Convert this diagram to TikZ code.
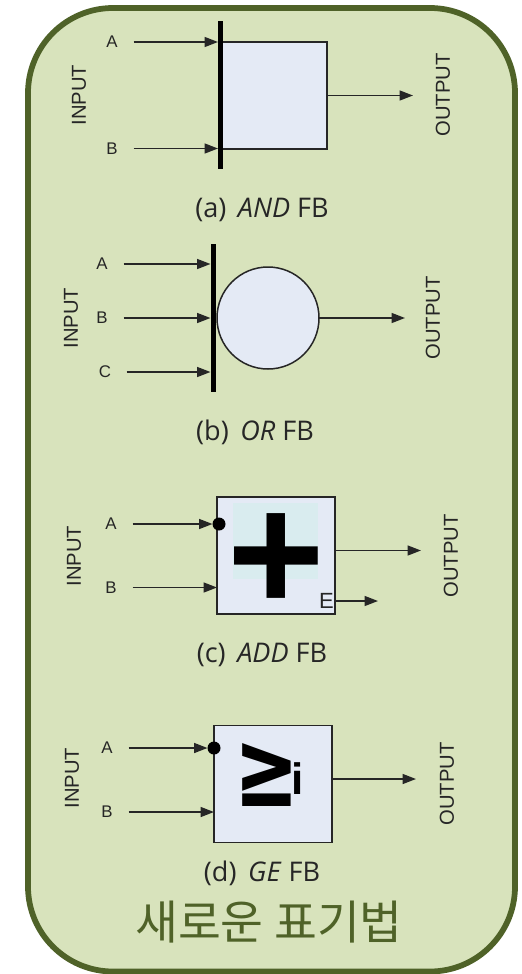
\documentclass[tikz,border=0pt]{standalone}
\usepackage{fontspec}
\setmainfont{Open Sans}
\newfontfamily\pinfont{Liberation Sans}
\newfontfamily\symfont{DejaVu Sans}
\newfontfamily\krfont{Noto Sans CJK KR}
\usetikzlibrary{arrows.meta, positioning}
\definecolor{panelFill}{HTML}{D8E3BC}
\definecolor{panelEdge}{HTML}{4F6228}
\definecolor{blockFill}{HTML}{E4EAF5}
\definecolor{plusFill}{HTML}{D9ECEF}
\definecolor{lineGrey}{HTML}{262626}

\begin{document}
\begin{tikzpicture}[
  x=0.2mm, y=-0.2mm,
  every node/.style={inner sep=0pt, outer sep=0pt, align=center},
  block/.style={draw=lineGrey, line width=0.3mm, fill=blockFill,
                minimum width=23.6mm, minimum height=23.4mm},
  bar/.style={fill=black, minimum width=1mm, minimum height=29.6mm},
  dot/.style={circle, fill=black, minimum size=2.6mm},
  pin/.style={font=\pinfont\fontsize{9.6}{11}\selectfont, text=lineGrey,
              minimum width=8.6mm},
  side/.style={font=\pinfont\fontsize{11.5}{14}\selectfont, text=lineGrey,
               rotate=90},
  caption/.style={font=\fontsize{15.4}{18}\selectfont, text=black!85},
  arrow/.style={-{Triangle[length=2.7mm, width=2mm]}, draw=lineGrey,
                line width=0.32mm},
]
\useasboundingbox (0, 0) rectangle (521, 974);

% --- Outer panel ---------------------------------------------------
\draw[draw=panelEdge, fill=panelFill, line width=1.15mm, rounded corners=17mm]
  (28, 8) rectangle (515, 971.5);

% --- (a) AND block -------------------------------------------------
\node[block, minimum width=21.4mm, minimum height=21.4mm] (blockA) at (273.5, 95.5) {};
\node[bar] (barA) at (220.5, 95) {};
\node[pin] (aA) at (112, 42) {A};
\node[pin] (aB) at (112, 148.5) {B};
\node[side] (aIn) at (79, 95) {INPUT};
\node[side] (aOut) at (443, 95) {OUTPUT};
\coordinate (aEnd) at (413, 95.5);
\draw[arrow] (aA.east) -- (aA.east -| barA.west);
\draw[arrow] (aB.east) -- (aB.east -| barA.west);
\draw[arrow] (blockA.east) -- (aEnd);
\node[caption] (capA) at (262, 210) {(a)\, \textit{AND} FB};

% --- (b) OR block --------------------------------------------------
\node[circle, draw=lineGrey, line width=0.3mm, fill=blockFill,
      minimum size=20.4mm] (blockB) at (268, 318) {};
\node[bar] (barB) at (213, 318) {};
\node[pin] (bA) at (102, 264) {A};
\node[pin] (bB) at (102, 318) {B};
\node[pin] (bC) at (105, 372) {C};
\node[side] (bIn) at (71, 318) {INPUT};
\node[side] (bOut) at (433, 318) {OUTPUT};
\coordinate (bEnd) at (405, 318);
\draw[arrow] (bA.east) -- (bA.east -| barB.west);
\draw[arrow] (bB.east) -- (bB.east -| barB.west);
\draw[arrow] (bC.east) -- (bC.east -| barB.west);
\draw[arrow] (blockB.east) -- (bEnd);
\node[caption] (capB) at (255, 432) {(b)\, \textit{OR} FB};

% --- (c) ADD block -------------------------------------------------
\node[block] (blockC) at (276, 555.5) {};
\fill[plusFill] (233, 503) rectangle (318, 579);
\node[font=\pinfont\bfseries\fontsize{95}{95}\selectfont] (plusC) at (276, 563) {\makebox[16mm]{+}};
\node[dot] (dotC) at (219, 524) {};
\node[pin] (cA) at (111, 524) {A};
\node[pin] (cB) at (111, 587.5) {B};
\node[font=\pinfont\fontsize{12.5}{14}\selectfont, text=lineGrey] (cE) at (326.5, 601) {E};
\node[side] (cIn) at (74, 556) {INPUT};
\node[side] (cOut) at (451, 556) {OUTPUT};
\coordinate (cEnd) at (421, 550.5);
\coordinate (cErr) at (378, 601);
\draw[arrow] (cA.east) -- (dotC.west);
\draw[arrow] (cB.east) -- (cB.east -| blockC.west);
\draw[arrow] (blockC.east |- cEnd) -- (cEnd);
\draw[arrow] (blockC.east |- cErr) -- (cErr);
\node[caption] (capC) at (262, 655) {(c)\, \textit{ADD} FB};

% --- (d) GE block --------------------------------------------------
\node[block] (blockD) at (273, 784) {};
\node[font=\symfont\bfseries\fontsize{44}{44}\selectfont] (geD) at (267, 775) {\scalebox{1}[1.4]{≥}};
\node[font=\pinfont\bfseries\fontsize{25}{25}\selectfont] (iD) at (298, 779) {i};
\node[dot] (dotD) at (214, 748) {};
\node[pin] (dA) at (107, 748) {A};
\node[pin] (dB) at (107, 812) {B};
\node[side] (dIn) at (72, 778) {INPUT};
\node[side] (dOut) at (447, 784) {OUTPUT};
\coordinate (dEnd) at (416, 779);
\draw[arrow] (dA.east) -- (dotD.west);
\draw[arrow] (dB.east) -- (dB.east -| blockD.west);
\draw[arrow] (blockD.east |- dEnd) -- (dEnd);
\node[caption] (capD) at (262, 873) {(d)\, \textit{GE} FB};

% --- Title ---------------------------------------------------------
\node[font=\krfont\fontsize{26.5}{30}\selectfont, text=panelEdge] (title) at (269, 922) {새로운 표기법};
\end{tikzpicture}
\end{document}
